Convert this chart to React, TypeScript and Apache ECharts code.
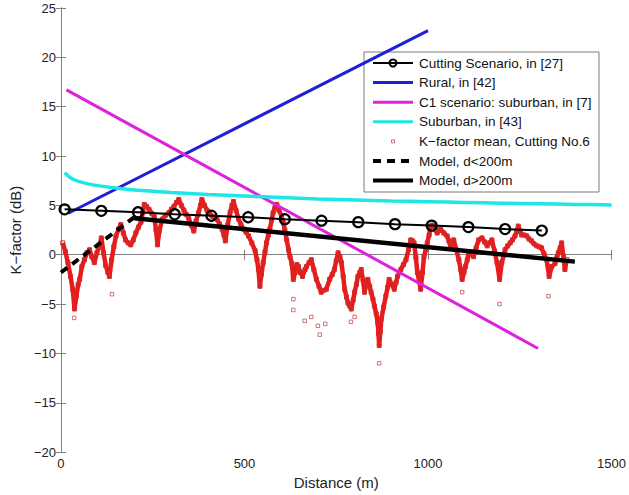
import React, { useEffect, useRef } from "react";
import * as echarts from "echarts";

// Tick values
const xTicks = [0, 500, 1000, 1500];
const yMin = -20;
const yMax = 25;

// Cutting Scenario, in [27]
const cutDist = [10, 110, 210, 310, 410, 510, 610, 710, 810, 910, 1010, 1110, 1210, 1310];
const cutK = [4.6, 4.45, 4.3, 4.1, 3.95, 3.8, 3.6, 3.45, 3.3, 3.1, 2.95, 2.8, 2.6, 2.45];

// Rural, in [42]
const ruralDist = [20, 1000];
const ruralK = [4.2, 22.7];

// C1 scenario: suburban, in [7]
const c1Dist = [15, 1300];
const c1K = [16.7, -9.5];

// Suburban, in [43]
const subDist = [10, 30, 60, 100, 150, 200, 300, 400, 500, 600, 700, 800, 900, 1000, 1100, 1200, 1300, 1400, 1500];
const subK = [8.3, 7.7, 7.3, 7.0, 6.75, 6.55, 6.3, 6.1, 5.95, 5.8, 5.65, 5.55, 5.45, 5.38, 5.3, 5.22, 5.16, 5.1, 5.05];

// Model, d<200m and d>200m
const modelNearDist = [0, 200];
const modelNearK = [-1.8, 3.8];
const modelFarDist = [200, 1400];
const modelFarK = [3.7, -0.7];

// K-factor mean, Cutting No.6 (main trace)
const kDist = [5, 12, 19, 26, 32, 37, 42, 47, 51, 57, 64, 71, 78, 84, 91, 98, 104, 110, 116, 122, 128, 132, 138, 144, 150, 157, 163, 170, 176, 183, 190, 197, 204, 211, 218, 223, 227, 233, 240, 247, 254, 259, 263, 268, 276, 285, 294, 301, 308, 315, 321, 328, 335, 341, 348, 355, 362, 368, 375, 380, 384, 391, 398, 405, 412, 418, 425, 432, 439, 444, 448, 454, 461, 466, 470, 477, 484, 490, 497, 504, 511, 520, 529, 534, 538, 542, 546, 551, 556, 560, 565, 569, 574, 578, 583, 588, 594, 601, 606, 610, 615, 620, 624, 629, 633, 638, 643, 647, 652, 658, 665, 669, 676, 682, 689, 696, 703, 709, 716, 723, 732, 739, 745, 750, 755, 760, 764, 769, 773, 778, 782, 787, 791, 796, 800, 805, 809, 814, 818, 823, 827, 832, 836, 841, 845, 850, 854, 859, 863, 865, 867, 870, 873, 879, 885, 890, 894, 901, 908, 913, 917, 922, 926, 933, 940, 947, 953, 958, 962, 967, 971, 976, 980, 985, 989, 994, 998, 1003, 1007, 1012, 1016, 1021, 1025, 1030, 1034, 1043, 1052, 1057, 1061, 1066, 1070, 1077, 1084, 1089, 1093, 1098, 1102, 1107, 1111, 1118, 1124, 1131, 1138, 1147, 1154, 1161, 1167, 1174, 1181, 1188, 1195, 1201, 1206, 1210, 1217, 1224, 1230, 1237, 1242, 1246, 1251, 1255, 1262, 1269, 1275, 1282, 1289, 1296, 1303, 1309, 1316, 1323, 1330, 1337, 1346, 1351, 1355, 1360, 1364, 1369, 1373, 1378];
const kMean = [1.2, 0.3, -0.8, -2.2, -3.5, -5.5, -4.2, -3.0, -2.5, -1.2, -0.5, 0.2, 0.5, -0.2, -0.8, 0.2, 0.8, 1.7, 0.2, -1.1, -1.8, -2.2, -0.5, 0.8, 1.9, 2.6, 3.05, 2.2, 1.5, 1.2, 1.0, 1.5, 2.2, 2.8, 3.3, 4.3, 5.1, 4.9, 4.6, 4.2, 3.9, 2.5, 1.0, 2.4, 3.6, 4.0, 4.25, 4.6, 4.9, 5.3, 5.6, 5.0, 4.5, 4.1, 3.7, 3.0, 2.4, 3.4, 4.25, 5.0, 5.6, 5.0, 4.5, 4.2, 3.9, 3.8, 3.6, 3.1, 2.6, 2.0, 1.4, 3.0, 4.3, 5.0, 5.4, 4.5, 3.6, 3.1, 2.6, 2.3, 1.9, 1.2, 0.4, -0.5, -1.5, -3.2, -2.0, -0.8, 0.3, 1.2, 2.0, 2.6, 3.5, 4.25, 4.8, 5.1, 4.5, 3.9, 3.2, 2.5, 1.5, 0.5, -0.2, -0.9, -2.5, -1.8, -1.0, -1.2, -1.8, -2.2, -1.5, -1.2, -0.8, -0.5, -1.5, -2.5, -3.2, -3.8, -3.6, -3.5, -2.5, -2.0, -1.5, -0.6, 0.2, -0.2, -0.8, -2.2, -3.5, -4.3, -4.9, -5.2, -5.5, -4.6, -3.8, -3.0, -2.2, -1.8, -1.5, -2.6, -3.8, -3.0, -2.5, -3.2, -3.8, -4.5, -5.2, -6.0, -6.9, -8.0, -9.2, -7.8, -6.5, -5.3, -4.2, -3.3, -2.5, -3.0, -3.5, -2.8, -2.2, -1.8, -1.5, -1.0, -0.5, 0.5, 1.5, 1.4, 1.2, -0.3, -1.8, -2.7, -3.5, -1.8, -0.2, 0.5, 1.2, 2.0, 2.9, 3.0, 2.9, 2.5, 2.2, 2.5, 2.6, 2.2, 1.9, 1.4, 0.9, 1.2, 1.5, 0.5, -0.5, -1.5, -2.5, -1.8, -1.2, -0.5, 0.2, 0.0, -0.2, 0.7, 1.5, 1.7, 1.3, 0.9, 1.2, 1.5, 0.4, -0.8, -2.5, -0.8, -0.1, 0.5, 0.9, 1.2, 1.5, 1.9, 2.4, 2.9, 2.4, 2.0, 2.0, 1.9, 1.6, 1.4, 1.1, 0.9, 0.8, 0.7, 0.1, -0.5, -2.2, -1.2, -0.9, -0.3, 0.2, 0.7, 1.2, -0.2, -1.5, -0.5];

// K-factor mean, Cutting No.6 (isolated low samples)
const kOutDist = [36, 139, 633, 633, 664, 682, 700, 705, 720, 790, 800, 867, 1093, 1195, 1328];
const kOutMean = [-6.4, -4.0, -4.5, -5.6, -6.7, -6.3, -7.2, -8.1, -7.0, -6.8, -6.3, -11.0, -3.8, -5.0, -4.2];

const legendLabels = [
  "Cutting Scenario, in [27]",
  "Rural, in [42]",
  "C1 scenario: suburban, in [7]",
  "Suburban, in [43]",
  "K\u2212factor mean, Cutting No.6",
  "Model, d<200m",
  "Model, d>200m",
];

const zip = (xs: number[], ys: number[]) => xs.map((x, i) => [x, ys[i]]);

const FONT = "'Liberation Sans', Arial, Helvetica, sans-serif";
const AXIS_GRAY = "#808080";
const RED = "#ea1a1a";
const BLUE = "#1f1fd6";
const MAGENTA = "#dd22dd";
const CYAN = "#1ee6e6";

const fmt = (v: number) => (v < 0 ? "\u2212" + Math.abs(v) : String(v));

export default function App() {
  const ref = useRef<HTMLDivElement>(null);
  useEffect(() => {
    if (!ref.current) return;
    const chart = echarts.init(ref.current, null, { renderer: "svg" });

    const axisCommon = {
      type: "value" as const,
      axisLine: { show: true, lineStyle: { color: AXIS_GRAY, width: 1 } },
      axisTick: { show: true, inside: true, length: 5, lineStyle: { color: AXIS_GRAY } },
      splitLine: { show: false },
    };

    // legend graphic
    const lx = 364, ly = 52, lw = 235, lh = 140;
    const row0 = 63, rowH = 19.6;
    const s0 = 373, s1 = 413, tx = 419;
    const legendEls: any[] = [
      { type: "rect", shape: { x: lx, y: ly, width: lw, height: lh }, style: { fill: "#fff", stroke: "#7a7a7a", lineWidth: 1 } },
    ];
    const rowY = (i: number) => row0 + i * rowH;
    legendEls.push({ type: "line", shape: { x1: s0, y1: rowY(0), x2: s1, y2: rowY(0) }, style: { stroke: "#000", lineWidth: 2 } });
    legendEls.push({ type: "circle", shape: { cx: (s0 + s1) / 2, cy: rowY(0), r: 3.5 }, style: { fill: "none", stroke: "#000", lineWidth: 2 } });
    legendEls.push({ type: "line", shape: { x1: s0, y1: rowY(1), x2: s1, y2: rowY(1) }, style: { stroke: BLUE, lineWidth: 3 } });
    legendEls.push({ type: "line", shape: { x1: s0, y1: rowY(2), x2: s1, y2: rowY(2) }, style: { stroke: MAGENTA, lineWidth: 3 } });
    legendEls.push({ type: "line", shape: { x1: s0, y1: rowY(3), x2: s1, y2: rowY(3) }, style: { stroke: CYAN, lineWidth: 3 } });
    legendEls.push({ type: "rect", shape: { x: (s0 + s1) / 2 - 1.5, y: rowY(4) - 1.5, width: 3, height: 3 }, style: { fill: "none", stroke: "#c0504d", lineWidth: 0.8 } });
    legendEls.push({ type: "line", shape: { x1: s0, y1: rowY(5), x2: s1, y2: rowY(5) }, style: { stroke: "#000", lineWidth: 4, lineDash: [8, 6] } });
    legendEls.push({ type: "line", shape: { x1: s0, y1: rowY(6), x2: s1, y2: rowY(6) }, style: { stroke: "#000", lineWidth: 4 } });
    legendLabels.forEach((t, i) => {
      legendEls.push({
        type: "text",
        x: tx,
        y: rowY(i),
        style: { text: t, font: `13.5px ${FONT}`, fill: "#111", verticalAlign: "middle", align: "left" },
      });
    });

    chart.setOption({
      animation: false,
      backgroundColor: "#fff",
      grid: { left: 58, right: 17, top: 8, bottom: 42, containLabel: false },
      xAxis: [
        {
          ...axisCommon,
          position: "bottom",
          min: xTicks[0],
          max: xTicks[xTicks.length - 1],
          interval: 500,
          axisLabel: { color: "#222", fontSize: 13, fontFamily: FONT, margin: 5, formatter: fmt },
          name: "Distance (m)",
          nameLocation: "middle",
          nameGap: 20,
          nameTextStyle: { color: "#222", fontSize: 15, fontFamily: FONT },
        },
        {
          ...axisCommon,
          position: "top",
          min: xTicks[0],
          max: xTicks[xTicks.length - 1],
          interval: 500,
          axisLabel: { show: false },
        },
      ],
      yAxis: [
        {
          ...axisCommon,
          position: "left",
          min: yMin,
          max: yMax,
          interval: 5,
          axisLabel: { color: "#222", fontSize: 13, fontFamily: FONT, margin: 5, formatter: fmt },
          name: "K\u2212factor (dB)",
          nameLocation: "middle",
          nameGap: 34,
          nameTextStyle: { color: "#222", fontSize: 15, fontFamily: FONT },
        },
        {
          ...axisCommon,
          position: "right",
          min: yMin,
          max: yMax,
          interval: 5,
          axisLabel: { show: false },
        },
      ],
      series: [
        {
          type: "line",
          name: "K-factor mean, Cutting No.6",
          data: zip(kDist, kMean),
          lineStyle: { color: RED, width: 4.5, join: "round" },
          symbol: "rect",
          symbolSize: 4,
          showSymbol: true,
          itemStyle: { color: "rgba(0,0,0,0)", borderColor: "#d42a2a", borderWidth: 1 },
          z: 2,
        },
        {
          type: "scatter",
          name: "K-factor mean outliers",
          data: zip(kOutDist, kOutMean),
          symbol: "rect",
          symbolSize: 3.5,
          itemStyle: { color: "rgba(0,0,0,0)", borderColor: "#c85050", borderWidth: 1 },
          z: 2,
        },
        {
          type: "line",
          name: "Cutting Scenario, in [27]",
          data: zip(cutDist, cutK),
          lineStyle: { color: "#000", width: 2 },
          symbol: "circle",
          symbolSize: 10,
          showSymbol: true,
          itemStyle: { color: "rgba(0,0,0,0)", borderColor: "#000", borderWidth: 2.2 },
          z: 5,
        },
        {
          type: "line",
          name: "Rural, in [42]",
          data: zip(ruralDist, ruralK),
          lineStyle: { color: BLUE, width: 3 },
          showSymbol: false,
          symbol: "none",
          z: 3,
        },
        {
          type: "line",
          name: "C1 scenario: suburban, in [7]",
          data: zip(c1Dist, c1K),
          lineStyle: { color: MAGENTA, width: 3 },
          showSymbol: false,
          symbol: "none",
          z: 3,
        },
        {
          type: "line",
          name: "Suburban, in [43]",
          data: zip(subDist, subK),
          smooth: 0.3,
          lineStyle: { color: CYAN, width: 3.5 },
          showSymbol: false,
          symbol: "none",
          z: 3,
        },
        {
          type: "line",
          name: "Model, d<200m",
          data: zip(modelNearDist, modelNearK),
          lineStyle: { color: "#000", width: 4, type: [8, 6] },
          showSymbol: false,
          symbol: "none",
          z: 4,
        },
        {
          type: "line",
          name: "Model, d>200m",
          data: zip(modelFarDist, modelFarK),
          lineStyle: { color: "#000", width: 4.5 },
          showSymbol: false,
          symbol: "none",
          z: 4,
        },
      ],
      graphic: [{ type: "group", z: 100, children: legendEls }],
    });
    return () => chart.dispose();
  }, []);

  return (
    <div style={{ position: "absolute", left: 0, top: 0, width: 629, height: 495, background: "#fff" }}>
      <div ref={ref} style={{ width: 629, height: 495 }} />
    </div>
  );
}
